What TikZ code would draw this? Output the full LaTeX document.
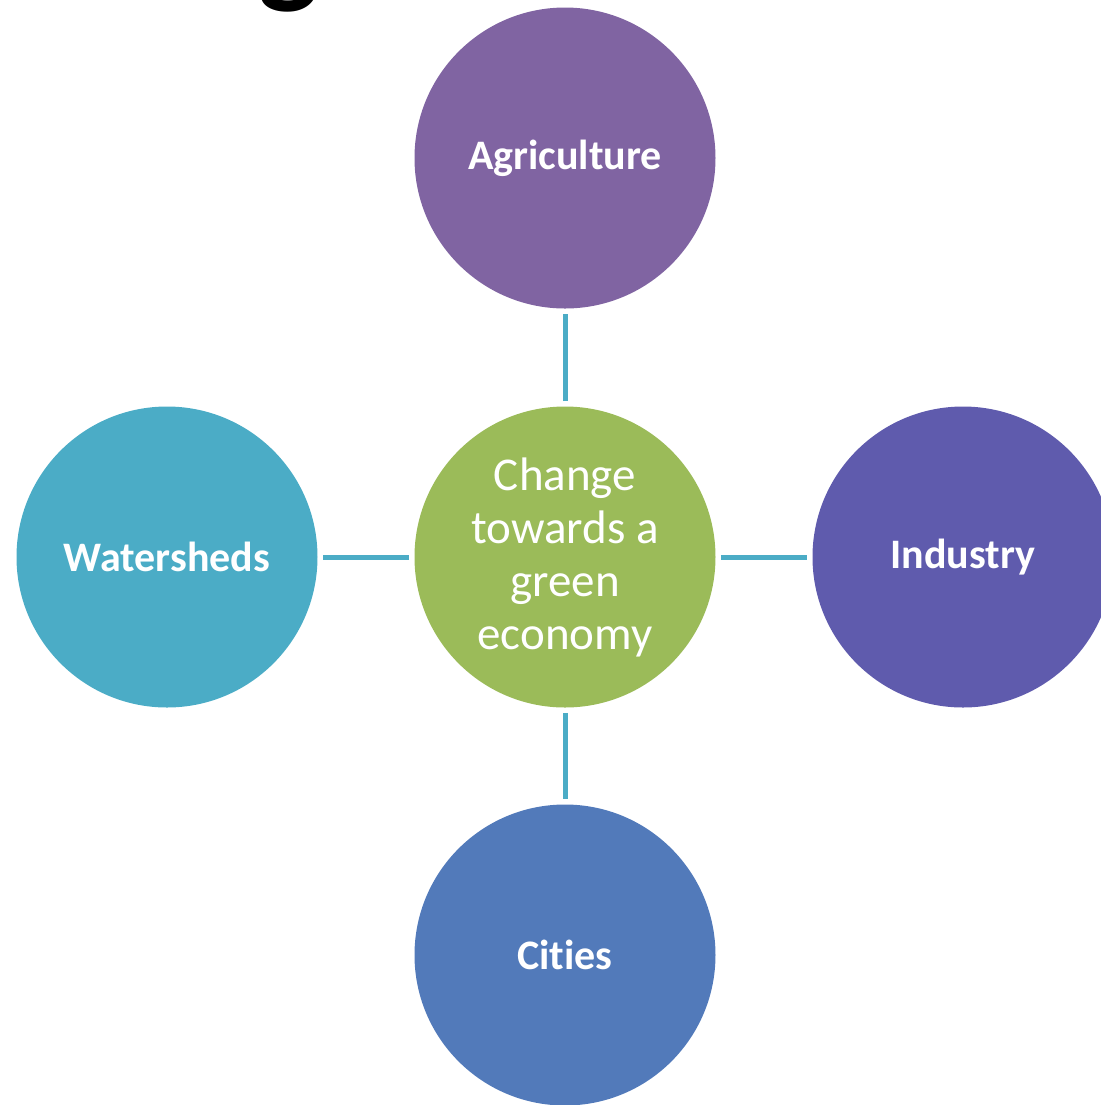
\documentclass[tikz,border=0pt]{standalone}
\usepackage{fontspec}
\setmainfont{Carlito}[Ligatures=NoCommon]
\usetikzlibrary{positioning}
\definecolor{hubgreen}{HTML}{9BBB59}
\definecolor{agripurple}{HTML}{8064A2}
\definecolor{induviolet}{HTML}{5F5BAD}
\definecolor{citiesblue}{HTML}{527ABA}
\definecolor{watercyan}{HTML}{4BACC6}
\definecolor{linkblue}{HTML}{4BACC6}

\begin{document}
\begin{tikzpicture}[x=0.5pt,y=-0.5pt,
    bubble/.style={circle,minimum size=150.5pt,inner sep=0pt,text=white,
      font=\bfseries\fontsize{21}{25}\selectfont},
    link/.style={draw=linkblue,line width=2.5pt,shorten <=2.5pt,shorten >=2.5pt}]
  \useasboundingbox (0,0) rectangle (1101,1105);
  \clip (0,0) rectangle (1101,1105);
  % tail of the heading above the chart
  \node[font=\bfseries\fontsize{64}{70}\selectfont,anchor=base,inner sep=0pt] (headg) at (289,-10) {g};
  % hub in the middle
  \node[bubble,fill=hubgreen,align=center,font=\fontsize{23.5}{26.5}\selectfont] (hub) at (565,557)
    {Change\\towards a\\green\\economy};
  % four sectors round the hub
  \foreach \n/\x/\y/\col/\txt in {
    agri/565/158/agripurple/Agriculture,
    indu/963/557/induviolet/Industry,
    cities/565/955/citiesblue/Cities,
    water/167/557/watercyan/Watersheds%
  } {
    \node[bubble,fill=\col] (\n) at (\x,\y) {\txt};
    \draw[link] (hub) -- (\n);
  }
\end{tikzpicture}
\end{document}
